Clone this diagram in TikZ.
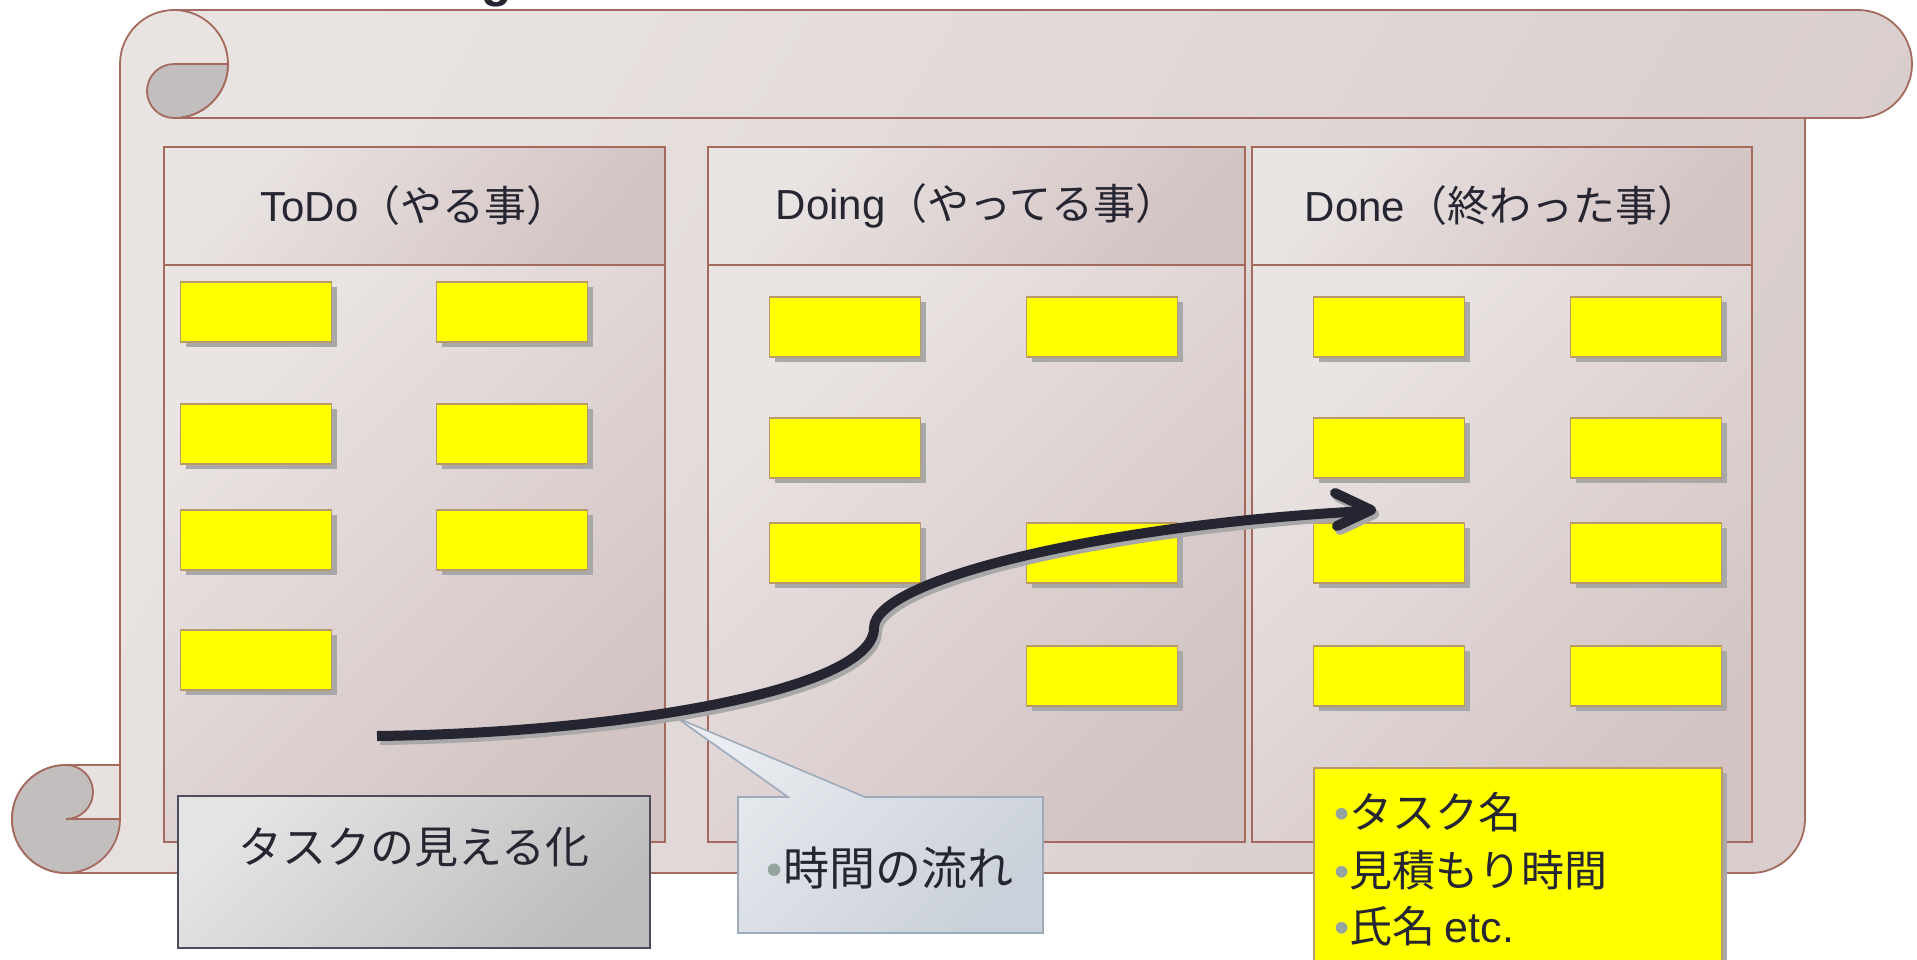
\documentclass[tikz,border=0pt]{standalone}
\usepackage{fontspec}
\setmainfont{Liberation Sans}
\newfontfamily\jp{Noto Sans CJK JP}
\usetikzlibrary{shadows}
\definecolor{scrollbrd}{HTML}{A46A5E}
\definecolor{paperA}{HTML}{EAE5E3}
\definecolor{paperM}{HTML}{E3DBDA}
\definecolor{paperB}{HTML}{D3C3C3}
\definecolor{scrollA}{HTML}{E9E4E2}
\definecolor{scrollB}{HTML}{D8CCCC}
\definecolor{curlg}{HTML}{C3BEBE}
\definecolor{ink}{HTML}{262633}
\definecolor{noteyel}{RGB}{255,255,0}
\definecolor{notebrd}{HTML}{B89A68}
\definecolor{shadowg}{HTML}{A8A8A8}
\definecolor{bulletg}{HTML}{94A39E}
\definecolor{calloutA}{HTML}{E9ECF0}
\definecolor{calloutB}{HTML}{CBD1DA}
\definecolor{calloutbrd}{HTML}{9DAABB}
\definecolor{grayA}{HTML}{E4E4E4}
\definecolor{grayB}{HTML}{BDBDBD}
\definecolor{graybrd}{HTML}{4C4C5A}
\newcommand{\bul}{\textcolor{bulletg}{\rmfamily •}}
\begin{document}
\begin{tikzpicture}[x=1pt,y=-1pt,
  note/.style={draw=notebrd, line width=1.6pt, fill=noteyel, minimum width=151pt,
    minimum height=60pt, inner sep=0pt,
    drop shadow={shadow xshift=5pt, shadow yshift=-5pt, fill=shadowg, opacity=1}},
  header/.style={draw=scrollbrd, line width=1.4pt, minimum height=118pt, inner sep=0pt,
    top color=paperA, middle color=paperA, bottom color=paperB, shading angle=50,
    text=ink, font=\fontsize{42}{42}\selectfont},
  panelbody/.style={draw=scrollbrd, line width=1.4pt,
    top color=paperA, middle color=paperM, bottom color=paperB, shading angle=45},
  scrollline/.style={draw=scrollbrd, line width=1.8pt},
  arrowline/.style={line width=10pt, line join=round},
]
\useasboundingbox (0,0) rectangle (1917,959);
\fill[white] (0,0) rectangle (1917,959);

% cut-off title
\node[anchor=base, inner sep=0pt, text=ink, font=\fontsize{50}{50}\selectfont\bfseries] (ttl) at (497,-4) {g};

% scroll body
\path[scrollline, top color=scrollA, middle color=scrollA, bottom color=scrollB, shading angle=60]
  (174,10) -- (1858,10) arc[start angle=270, end angle=450, radius=54]
  -- (1805,118) -- (1805,819) arc[start angle=0, end angle=90, radius=54]
  -- (66,873) arc[start angle=90, end angle=270, radius=54]
  -- (120,765) -- (120,64) arc[start angle=180, end angle=270, radius=54] -- cycle;
% top-left curl
\draw[scrollline] (174,10) arc[start angle=270, end angle=450, radius=54] -- (1805,118);
\path[scrollline, fill=curlg] (174,64) -- (228,64) arc[start angle=0, end angle=90, radius=54]
  arc[start angle=90, end angle=270, radius=27] -- cycle;
% bottom-left curl
\draw[scrollline] (120,765) -- (120,819);
\path[scrollline, fill=curlg] (66,819) -- (120,819) arc[start angle=0, end angle=270, radius=54]
  arc[start angle=270, end angle=450, radius=27] -- cycle;

% panels
\path[panelbody] (164,265) rectangle (665,842);
\path[panelbody] (708,265) rectangle (1245,842);
\path[panelbody] (1252,265) rectangle (1752,842);
\node[header, minimum width=501pt] (h1) at (414.5,206) {ToDo{\jp（やる事）}};
\node[header, minimum width=537pt] (h2) at (976.5,206) {Doing{\jp（やってる事）}};
\node[header, minimum width=500pt] (h3) at (1502,206) {Done{\jp（終わった事）}};

% notes column 1
\node[note] (a11) at (256,312) {};
\node[note] (a12) at (512,312) {};
\node[note] (a21) at (256,434) {};
\node[note] (a22) at (512,434) {};
\node[note] (a31) at (256,540) {};
\node[note] (a32) at (512,540) {};
\node[note] (a41) at (256,660) {};
% notes column 2
\node[note] (b11) at (845,327) {};
\node[note] (b12) at (1102,327) {};
\node[note] (b21) at (845,448) {};
\node[note] (b31) at (845,553) {};
\node[note] (b32) at (1102,553) {};
\node[note] (b42) at (1102,676) {};
% notes column 3
\node[note] (c11) at (1389,327) {};
\node[note] (c12) at (1646,327) {};
\node[note] (c21) at (1389,448) {};
\node[note] (c22) at (1646,448) {};
\node[note] (c31) at (1389,553) {};
\node[note] (c32) at (1646,553) {};
\node[note] (c41) at (1389,676) {};
\node[note] (c42) at (1646,676) {};

% callout: time flow
\coordinate (ptip) at (677,718);
\path[draw=calloutbrd, line width=1.6pt, top color=calloutA, middle color=calloutA, bottom color=calloutB, shading angle=45]
  (738,797) -- (788,797) -- (ptip) -- (865,797) -- (1043,797) -- (1043,933) -- (738,933) -- cycle;
\node[text=ink, font=\jp\fontsize{46}{46}\selectfont, inner sep=0pt] (flow) at (890,868) {\bul 時間の流れ};

% arrow
\coordinate (arS) at (377,736);
\coordinate (arM) at (874,628);
\coordinate (arE) at (1366,511);
\coordinate (arT) at (1371,510);
\coordinate (barbU) at (1335,493);
\coordinate (barbD) at (1337,526);
\begin{scope}[transform canvas={xshift=3pt, yshift=-4pt}]
  \draw[arrowline, shadowg] (arS) .. controls (620,733) and (874,690) .. (arM)
    .. controls (874,580) and (1100,525) .. (arE);
  \draw[arrowline, shadowg, line cap=round] (barbU) -- (arT) -- (barbD);
\end{scope}
\draw[arrowline, ink] (arS) .. controls (620,733) and (874,690) .. (arM)
  .. controls (874,580) and (1100,525) .. (arE);
\draw[arrowline, ink, line cap=round] (barbU) -- (arT) -- (barbD);

% visualisation box
\node[draw=graybrd, line width=2pt, minimum width=472pt, minimum height=152pt, inner sep=0pt,
  top color=grayA, middle color=grayA, bottom color=grayB, shading angle=45] (vis) at (414,872) {};
\node[text=ink, font=\jp\fontsize{44}{44}\selectfont, inner sep=0pt] (vistext) at (414,847) {タスクの見える化};

% yellow info card
\node[note, minimum width=408pt, minimum height=240pt, anchor=north west] (card) at (1313,767) {};
\node[anchor=base west, inner sep=0pt, text=ink, font=\jp\fontsize{43}{43}\selectfont] (y1) at (1334,828) {\bul タスク名};
\node[anchor=base west, inner sep=0pt, text=ink, font=\jp\fontsize{43}{43}\selectfont] (y2) at (1334,886) {\bul 見積もり時間};
\node[anchor=base west, inner sep=0pt, text=ink, font=\jp\fontsize{43}{43}\selectfont] (y3) at (1334,942) {\bul 氏名 {\rmfamily etc.}};
\end{tikzpicture}
\end{document}
